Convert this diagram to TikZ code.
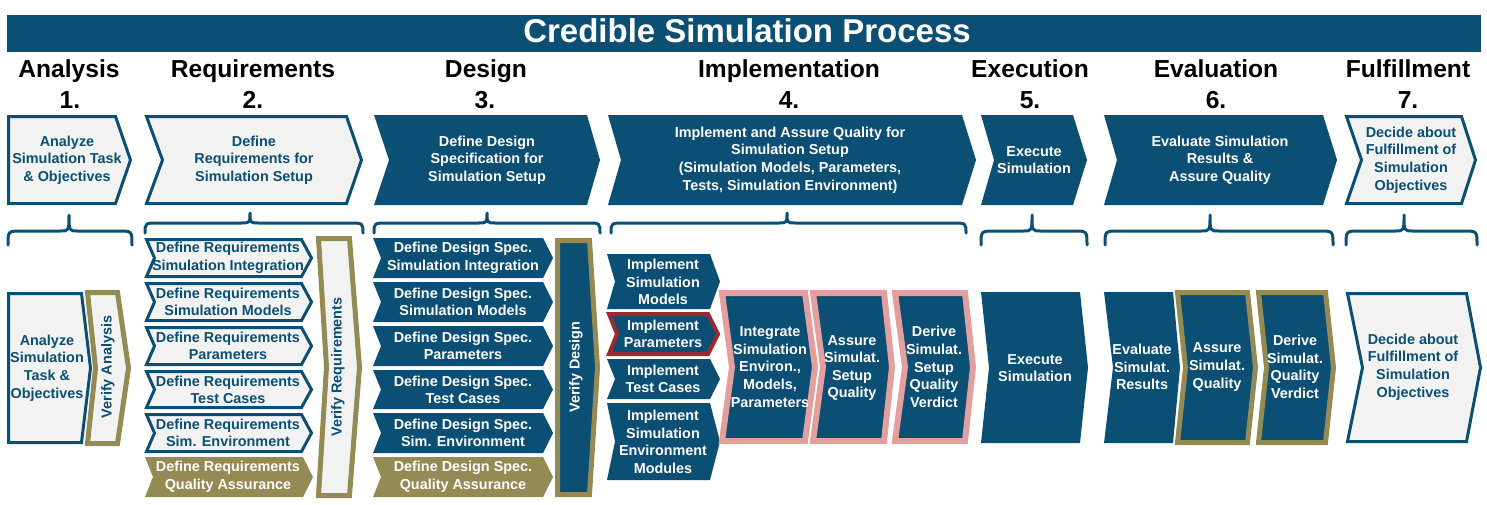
\documentclass[tikz,border=0pt]{standalone}
\usepackage{fontspec}
\setmainfont{Liberation Sans}
\definecolor{cblue}{HTML}{0B4F75}
\definecolor{colive}{HTML}{948A54}
\definecolor{clight}{HTML}{F2F2F2}
\definecolor{cpink}{HTML}{E39E9E}
\definecolor{cred}{HTML}{9A2A2E}
\tikzset{
  lightbox/.style={fill=clight, draw=cblue},
  bluebox/.style={fill=cblue},
  olivebox/.style={fill=colive},
  verifyL/.style={fill=clight, draw=colive},
  verifyB/.style={fill=cblue, draw=colive},
  pinkbox/.style={fill=cblue, draw=cpink},
  redbox/.style={fill=cblue, draw=cred},
  txt/.style={font=\fontsize{14.4}{17.6}\selectfont\bfseries, align=center, inner sep=0pt},
  wtxt/.style={txt, text=white},
  btxt/.style={txt, text=cblue},
  head/.style={font=\fontsize{24.6}{28}\selectfont\bfseries, anchor=base, inner sep=0pt, text=black},
  bracestyle/.style={draw=cblue, line width=3pt, line cap=round, line join=round},
}
% #1 style, #2 x1, #3 y1, #4 x2, #5 y2, #6 notch, #7 tip, #8 border width, #9 name
\newcommand\chev[9]{%
  \pgfmathsetmacro\hw{#8/2}%
  \path[#1, line width=#8pt, line join=miter]
    ({#2+\hw},{#3+\hw}) -- ({#4-\hw},{#3+\hw}) -- ({#4+#7-\hw},{(#3+#5)/2})
    -- ({#4-\hw},{#5-\hw}) -- ({#2+\hw},{#5-\hw}) -- ({#2+#6+\hw},{(#3+#5)/2}) -- cycle;
  \coordinate (#9) at ({(#2+#4)/2},{(#3+#5)/2});
}
% #1 xl, #2 xr, #3 xc, #4 ytop, #5 yh, #6 yb
\newcommand\brc[6]{%
  \draw[bracestyle] (#1,#6) .. controls (#1,#5) .. ({#1+14},#5) -- ({#3-9},#5)
    .. controls (#3,#5) .. (#3,#4) .. controls (#3,#5) .. ({#3+9},#5)
    -- ({#2-14},#5) .. controls (#2,#5) .. (#2,#6);
}
\begin{document}
\begin{tikzpicture}[x=1pt,y=-1pt]
\useasboundingbox (0,0) rectangle (1487,504);
% title
\fill[cblue] (7,15) rectangle (1481,52);
\node[font=\fontsize{33}{36}\selectfont\bfseries, text=white, anchor=base, inner sep=0pt] (title) at (747,42) {Credible Simulation Process};
% headings
\node[head] (h1) at (69,77) {Analysis};
\node[head] (h2) at (253,77) {Requirements};
\node[head] (h3) at (486,77) {Design};
\node[head] (h4) at (789,77) {Implementation};
\node[head] (h5) at (1030,77) {Execution};
\node[head] (h6) at (1216,77) {Evaluation};
\node[head] (h7) at (1408,77) {Fulfillment};
\node[head] (n1) at (70,108) {1.};
\node[head] (n2) at (253,108) {2.};
\node[head] (n3) at (485,108) {3.};
\node[head] (n4) at (789,108) {4.};
\node[head] (n5) at (1030,108) {5.};
\node[head] (n6) at (1216,108) {6.};
\node[head] (n7) at (1408,108) {7.};
% top chevrons
\chev{lightbox}{7}{115}{117}{205}{0}{15}{3}{c1}
\node[btxt] (tc1) at (67,160) {Analyze\\Simulation Task\\\& Objectives};
\chev{lightbox}{145}{115}{348}{205}{16}{15}{3}{c2}
\node[btxt] (tc2) at (254,160) {Define\\Requirements for\\Simulation Setup};
\chev{bluebox}{374}{115}{587}{205}{15}{13}{0}{c3}
\node[wtxt] (tc3) at (487,160) {Define Design\\Specification for\\Simulation Setup};
\chev{bluebox}{608}{115}{962}{205}{13}{14}{0}{c4}
\node[wtxt] (tc4) at (790,160) {Implement and Assure Quality for\\Simulation Setup\\(Simulation Models, Parameters,\\Tests, Simulation Environment)};
\chev{bluebox}{981}{115}{1073}{205}{13}{14}{0}{c5}
\node[wtxt] (tc5) at (1034,160) {Execute\\Simulation};
\chev{bluebox}{1104}{115}{1323}{205}{13}{14}{0}{c6}
\node[wtxt] (tc6) at (1220,160) {Evaluate Simulation\\Results \&\\Assure Quality};
\chev{lightbox}{1345}{115}{1463}{205}{15}{14}{3}{c7}
\node[btxt] (tc7) at (1411,160) {Decide about\\Fulfillment of\\Simulation\\Objectives};
% braces
\brc{8}{132}{69}{215}{231}{245}
\brc{145}{363}{250}{213}{223}{233}
\brc{374}{600}{487}{213}{223}{233}
\brc{611}{966}{787}{213}{223}{233}
\brc{981}{1087}{1032}{215}{231}{245}
\brc{1105}{1333}{1210}{215}{231}{245}
\brc{1346}{1477}{1404}{215}{231}{245}
% analysis
\chev{lightbox}{7}{292}{83}{444}{0}{9}{3}{b1}
\node[btxt] (tb1) at (47,368) {Analyze\\Simulation\\Task \&\\Objectives};
\chev{verifyL}{85}{290}{120}{446}{8}{11}{5}{b2}
\node[btxt, rotate=90] (tb2) at (108,367) {Verify Analysis};
% requirements
\chev{lightbox}{145}{238}{303}{278}{8}{10}{3}{r1}
\node[btxt] (tr1) at (228,258) {Define Requirements\\Simulation Integration};
\chev{lightbox}{145}{282}{303}{322}{8}{10}{3}{r2}
\node[btxt] (tr2) at (228,302) {Define Requirements\\Simulation Models};
\chev{lightbox}{145}{326}{303}{366}{8}{10}{3}{r3}
\node[btxt] (tr3) at (228,346) {Define Requirements\\Parameters};
\chev{lightbox}{145}{370}{303}{409}{8}{10}{3}{r4}
\node[btxt] (tr4) at (228,390) {Define Requirements\\Test Cases};
\chev{lightbox}{145}{413}{303}{453}{8}{10}{3}{r5}
\node[btxt] (tr5) at (228,433) {Define Requirements\\Sim. Environment};
\chev{olivebox}{145}{457}{303}{497}{8}{10}{0}{r6}
\node[wtxt] (tr6) at (228,477) {Define Requirements\\Quality Assurance};
\chev{verifyL}{316}{236}{352}{498}{8}{10}{5}{vr}
\node[btxt, rotate=90] (tvr) at (338,367) {Verify Requirements};
% design
\chev{bluebox}{373}{238}{543}{278}{8}{10}{0}{d1}
\node[wtxt] (td1) at (463,258) {Define Design Spec.\\Simulation Integration};
\chev{bluebox}{373}{282}{543}{322}{8}{10}{0}{d2}
\node[wtxt] (td2) at (463,302) {Define Design Spec.\\Simulation Models};
\chev{bluebox}{373}{326}{543}{366}{8}{10}{0}{d3}
\node[wtxt] (td3) at (463,346) {Define Design Spec.\\Parameters};
\chev{bluebox}{373}{370}{543}{409}{8}{10}{0}{d4}
\node[wtxt] (td4) at (463,390) {Define Design Spec.\\Test Cases};
\chev{bluebox}{373}{413}{543}{453}{8}{10}{0}{d5}
\node[wtxt] (td5) at (463,433) {Define Design Spec.\\Sim. Environment};
\chev{olivebox}{373}{457}{543}{497}{8}{10}{0}{d6}
\node[wtxt] (td6) at (463,477) {Define Design Spec.\\Quality Assurance};
\chev{verifyB}{555}{238}{592}{497}{0}{8}{5}{vd}
\node[wtxt, rotate=90] (tvd) at (576,367) {Verify Design};
% implementation
\chev{bluebox}{607}{254}{710}{309}{8}{10}{0}{i1}
\node[wtxt] (ti1) at (663,282) {Implement\\Simulation\\Models};
\chev{redbox}{607}{312}{710}{356}{8}{10}{4}{i2}
\node[wtxt] (ti2) at (663,334) {Implement\\Parameters};
\chev{bluebox}{607}{359}{710}{399}{8}{10}{0}{i3}
\node[wtxt] (ti3) at (663,379) {Implement\\Test Cases};
\chev{bluebox}{607}{403}{710}{480}{8}{10}{0}{i4}
\node[wtxt] (ti4) at (663,442) {Implement\\Simulation\\Environment\\Modules};
\chev{pinkbox}{719}{290}{808}{444}{10}{10}{6}{p1}
\node[wtxt] (tp1) at (770,367) {Integrate\\Simulation\\Environ.,\\Models,\\Parameters};
\chev{pinkbox}{810}{290}{887}{444}{10}{8}{6}{p2}
\node[wtxt] (tp2) at (852,368) {Assure\\Simulat.\\Setup\\Quality};
\chev{pinkbox}{892}{290}{968}{444}{10}{8}{6}{p3}
\node[wtxt] (tp3) at (934,367) {Derive\\Simulat.\\Setup\\Quality\\Verdict};
% execution
\chev{bluebox}{981}{292}{1080}{443}{8}{8}{0}{e1}
\node[wtxt] (te1) at (1035,368) {Execute\\Simulation};
% evaluation
\chev{bluebox}{1104}{292}{1173}{443}{9}{7}{0}{v1}
\node[wtxt] (tv1) at (1142,367) {Evaluate\\Simulat.\\Results};
\chev{verifyB}{1175}{290}{1250}{445}{8}{8}{5}{v2}
\node[wtxt] (tv2) at (1217,367) {Assure\\Simulat.\\Quality};
\chev{verifyB}{1256}{290}{1328}{445}{8}{8}{5}{v3}
\node[wtxt] (tv3) at (1295,367) {Derive\\Simulat.\\Quality\\Verdict};
% fulfillment
\chev{lightbox}{1346}{292}{1468}{443}{15}{14}{3}{f1}
\node[btxt] (tf1) at (1413,367) {Decide about\\Fulfillment of\\Simulation\\Objectives};
\end{tikzpicture}
\end{document}
